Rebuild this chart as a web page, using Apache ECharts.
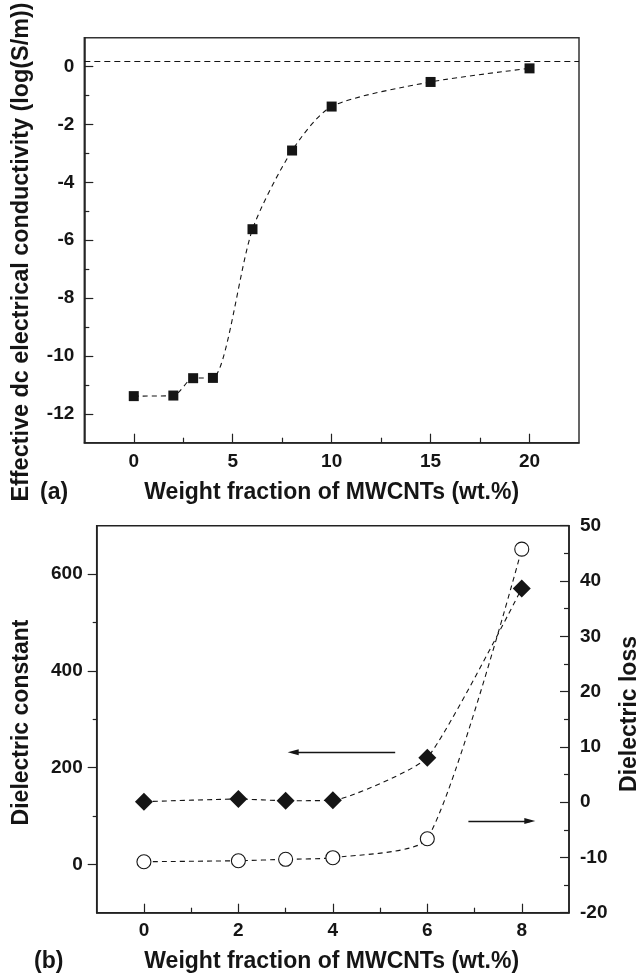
<!DOCTYPE html>
<html>
<head>
<meta charset="utf-8">
<script src="https://cdn.jsdelivr.net/npm/echarts@6/dist/echarts.min.js"></script>
<style>
  html, body { margin: 0; padding: 0; background: #fff; }
  #chartBox { width: 641px; height: 975px; }
</style>
</head>
<body>
<div id="chartBox"></div>
<script>
// (a) conductivity vs MWCNT loading
const fracA = [0, 2, 3, 4, 6, 8, 10, 15, 20]
const condA = [-11.39, -11.37, -10.77, -10.76, -5.62, -2.9, -1.38, -0.53, -0.06]
const refLevelA = 0.17
const xTicksA = [0, 5, 10, 15, 20]
const xMinorA = [2.5, 7.5, 12.5, 17.5]
const yTicksA = [-12, -10, -8, -6, -4, -2, 0]
const yMinorA = [-11, -9, -7, -5, -3, -1]

// (b) dielectric constant / loss
const fracB = [0, 2, 3, 4, 6, 8]
const constB = [129.5, 135, 131.5, 132.3, 220.4, 570.4]
const lossB = [-10.78, -10.6, -10.34, -10.05, -6.62, 45.76]
const xTicksB = [0, 2, 4, 6, 8]
const xMinorB = [1, 3, 5, 7]
const yTicksB = [0, 200, 400, 600]
const yMinorB = [100, 300, 500]
// arrows (x, dielectric constant units)
const arrowLeft = [[5.32, 231.6], [3.16, 231.6]]
const arrowRight = [[6.87, 89.6], [8.17, 89.6]]

const FONT = 'Liberation Sans, Arial, sans-serif'
const INK = '#151515'

function labelStyle(margin, values) {
  return { customValues: values, fontSize: 19, fontWeight: 'bold', fontFamily: FONT, color: INK, margin: margin }
}
function lineAxis(show) {
  return { show: show, onZero: false, lineStyle: { color: '#222', width: 1.5 } }
}
function ticks(values, len, inside) {
  return { show: true, customValues: values, inside: inside, length: len, lineStyle: { color: '#222', width: 1.2 } }
}

let myChart = echarts.init(document.getElementById('chartBox'))

myChart.setOption({
  animation: false,
  grid: [
    { left: 84.3, top: 37.7, width: 494.7, height: 405, show: true, borderColor: '#333', borderWidth: 1.5, outerBoundsMode: 'none' },
    { left: 96.7, top: 525.7, width: 472.3, height: 387, show: true, borderColor: '#222', borderWidth: 1.5, outerBoundsMode: 'none' }
  ],
  xAxis: [
    { gridIndex: 0, type: 'value', min: -2.5, max: 22.5, position: 'bottom',
      axisLine: lineAxis(true), axisTick: ticks(xTicksA, 9, true), axisLabel: labelStyle(10, xTicksA), splitLine: { show: false } },
    { gridIndex: 0, type: 'value', min: -2.5, max: 22.5, position: 'bottom',
      axisLine: lineAxis(false), axisTick: ticks(xMinorA, 5, true), axisLabel: { show: false }, splitLine: { show: false } },
    { gridIndex: 1, type: 'value', min: -1, max: 9, position: 'bottom',
      axisLine: lineAxis(true), axisTick: ticks(xTicksB, 9, true), axisLabel: labelStyle(9, xTicksB), splitLine: { show: false } },
    { gridIndex: 1, type: 'value', min: -1, max: 9, position: 'bottom',
      axisLine: lineAxis(false), axisTick: ticks(xMinorB, 5, true), axisLabel: { show: false }, splitLine: { show: false } }
  ],
  yAxis: [
    { gridIndex: 0, type: 'value', min: -13, max: 1, position: 'left',
      axisLine: lineAxis(true), axisTick: ticks(yTicksA, 9, true), axisLabel: labelStyle(10, yTicksA), splitLine: { show: false } },
    { gridIndex: 0, type: 'value', min: -13, max: 1, position: 'left',
      axisLine: lineAxis(false), axisTick: ticks(yMinorA, 5, true), axisLabel: { show: false }, splitLine: { show: false } },
    { gridIndex: 1, type: 'value', min: -100, max: 700, position: 'left',
      axisLine: lineAxis(true), axisTick: ticks(yTicksB, 9, false), axisLabel: labelStyle(14, yTicksB), splitLine: { show: false } },
    { gridIndex: 1, type: 'value', min: -100, max: 700, position: 'left',
      axisLine: lineAxis(false), axisTick: ticks(yMinorB, 4, false), axisLabel: { show: false }, splitLine: { show: false } },
    { gridIndex: 1, type: 'value', min: -20, max: 50, interval: 10, position: 'right',
      axisLine: lineAxis(true),
      axisTick: { show: true, inside: true, length: 9, lineStyle: { color: '#222', width: 1.2 } },
      minorTick: { show: true, splitNumber: 2, length: 5, lineStyle: { color: '#222', width: 1.2 } },
      axisLabel: { fontSize: 19, fontWeight: 'bold', fontFamily: FONT, color: INK, margin: 11 },
      splitLine: { show: false } }
  ],
  series: [
    {
      name: 'conductivity',
      type: 'line',
      xAxisIndex: 0,
      yAxisIndex: 0,
      smooth: 0.25,
      symbol: 'rect',
      symbolSize: 10,
      itemStyle: { color: INK },
      lineStyle: { color: INK, width: 1.1, type: [5, 4] },
      data: fracA.map((x, i) => [x, condA[i]]),
      markLine: {
        silent: true,
        symbol: 'none',
        label: { show: false },
        lineStyle: { color: INK, width: 1.2, type: [6, 4] },
        data: [{ yAxis: refLevelA }]
      }
    },
    {
      name: 'dielectric constant',
      type: 'line',
      xAxisIndex: 2,
      yAxisIndex: 2,
      smooth: 0.15,
      symbol: 'diamond',
      symbolSize: 18,
      itemStyle: { color: INK },
      lineStyle: { color: INK, width: 1.1, type: [5, 4] },
      data: fracB.map((x, i) => [x, constB[i]]),
      markLine: {
        silent: true,
        label: { show: false },
        lineStyle: { color: INK, width: 1.3, type: 'solid' },
        data: [arrowLeft, arrowRight].map(a => [
          { coord: a[0], symbol: 'none' },
          { coord: a[1], symbol: 'triangle', symbolSize: [6, 11] }
        ])
      }
    },
    {
      name: 'dielectric loss',
      type: 'line',
      xAxisIndex: 2,
      yAxisIndex: 4,
      smooth: 0.2,
      symbol: 'circle',
      symbolSize: 14,
      itemStyle: { color: '#fff', borderColor: INK, borderWidth: 1.1 },
      lineStyle: { color: INK, width: 1.1, type: [5, 4] },
      data: fracB.map((x, i) => [x, lossB[i]])
    }
  ],
  graphic: [
    { type: 'text', x: 22, y: 252, rotation: Math.PI / 2,
      style: { text: 'Effective dc electrical conductivity (log(S/m))', font: 'bold 23.4px ' + FONT, fill: INK, textAlign: 'center', textVerticalAlign: 'middle' } },
    { type: 'text', x: 40, y: 493,
      style: { text: '(a)', font: 'bold 23px ' + FONT, fill: INK, textAlign: 'left', textVerticalAlign: 'middle' } },
    { type: 'text', x: 331.7, y: 493,
      style: { text: 'Weight fraction of MWCNTs (wt.%)', font: 'bold 23px ' + FONT, fill: INK, textAlign: 'center', textVerticalAlign: 'middle' } },
    { type: 'text', x: 22, y: 722.5, rotation: Math.PI / 2,
      style: { text: 'Dielectric constant', font: 'bold 23px ' + FONT, fill: INK, textAlign: 'center', textVerticalAlign: 'middle' } },
    { type: 'text', x: 630, y: 714, rotation: Math.PI / 2,
      style: { text: 'Dielectric loss', font: 'bold 23px ' + FONT, fill: INK, textAlign: 'center', textVerticalAlign: 'middle' } },
    { type: 'text', x: 34, y: 962,
      style: { text: '(b)', font: 'bold 23px ' + FONT, fill: INK, textAlign: 'left', textVerticalAlign: 'middle' } },
    { type: 'text', x: 331.7, y: 962,
      style: { text: 'Weight fraction of MWCNTs (wt.%)', font: 'bold 23px ' + FONT, fill: INK, textAlign: 'center', textVerticalAlign: 'middle' } }
  ]
})
</script>
</body>
</html>
